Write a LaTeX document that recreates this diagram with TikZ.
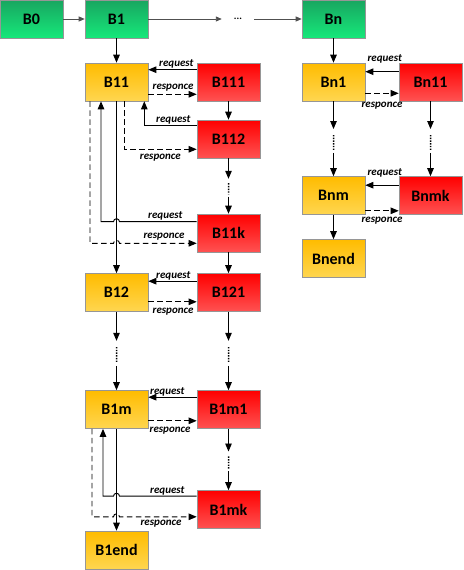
\documentclass[tikz,border=0pt]{standalone}
\usepackage{fontspec}
\setmainfont{Carlito}
\usetikzlibrary{arrows.meta,calc}
\definecolor{gT}{RGB}{24,166,96}
\definecolor{gB}{RGB}{22,232,122}
\definecolor{yT}{RGB}{255,188,0}
\definecolor{yB}{RGB}{255,214,80}
\definecolor{rT}{RGB}{255,0,0}
\definecolor{rB}{RGB}{255,82,82}
\definecolor{bord}{RGB}{150,150,150}
\definecolor{garrc}{RGB}{80,80,80}
\newcommand\vchain[2]{%
  \draw[arr] (#1.south) -- ($(#1.south)!0.37!(#2.north)$);
  \draw[dotline] ($(#1.south)!0.45!(#2.north)$) -- ($(#1.south)!0.65!(#2.north)$);
  \draw[arr] ($(#1.south)!0.69!(#2.north)$) -- (#2.north);}
\begin{document}
\begin{tikzpicture}[x=1pt,y=1pt,
  box/.style={draw=bord, line width=0.6pt, minimum width=63pt, minimum height=38pt, inner sep=0pt,
    font=\fontsize{16}{16}\selectfont\bfseries},
  gbox/.style={box, top color=gT, bottom color=gB},
  ybox/.style={box, top color=yT, bottom color=yB},
  rbox/.style={box, top color=rT, bottom color=rB},
  arr/.style={line width=0.95pt, -{Triangle[length=8pt,width=6.5pt]}},
  garr/.style={line width=0.9pt, draw=garrc, -{Triangle[length=6pt,width=5pt]}},
  resp/.style={arr, dash pattern=on 5.5pt off 3.5pt},
  lab/.style={font=\fontsize{11}{11}\selectfont\bfseries\itshape, inner sep=1pt},
  dotline/.style={line width=1.5pt, dash pattern=on 1.4pt off 1.3pt}
]
\useasboundingbox (0,0) rectangle (463,-570);

% nodes
\node[gbox] (B0) at (31.5,-19) {B0};
\node[gbox] (B1) at (116.5,-19) {B1};
\node[font=\fontsize{10}{10}\selectfont\bfseries, minimum width=32pt, inner sep=0pt] (dd) at (238,-19) {...};
\node[gbox] (Bn) at (333.5,-19) {Bn};

\node[ybox] (B11) at (116.5,-82) {B11};
\node[rbox] (B111) at (228.5,-82) {B111};
\node[rbox] (B112) at (228.5,-139) {B112};
\node[rbox] (B11k) at (228.5,-233) {B11k};
\node[ybox] (B12) at (116.5,-292.5) {B12};
\node[rbox] (B121) at (228.5,-292.5) {B121};
\node[ybox] (B1m) at (116.5,-409.5) {B1m};
\node[rbox] (B1m1) at (228.5,-409.5) {B1m1};
\node[rbox] (B1mk) at (228.5,-509.5) {B1mk};
\node[ybox] (B1end) at (116.5,-550) {B1end};

\node[ybox] (Bn1) at (333.5,-82) {Bn1};
\node[rbox] (Bn11) at (430.5,-82) {Bn11};
\node[ybox] (Bnm) at (333.5,-195.5) {Bnm};
\node[rbox] (Bnmk) at (430.5,-195.5) {Bnmk};
\node[ybox] (Bnend) at (333.5,-258.5) {Bnend};

% top row
\draw[garr] (B0) -- (B1);
\draw[garr] (B1) -- (dd);
\draw[garr] (dd) -- (Bn);
\draw[arr] (B1) -- (B11);
\draw[arr] (Bn) -- (Bn1);

% vertical chains
\draw[arr] (B111) -- (B112);
\vchain{B112}{B11k}
\draw[arr] (B11k) -- (B121);
\draw[arr] (B11) -- (B12);
\vchain{B12}{B1m}
\vchain{B121}{B1m1}
\vchain{B1m1}{B1mk}
\draw[arr] (B1m) -- (B1end);
\vchain{Bn1}{Bnm}
\vchain{Bn11}{Bnmk}
\draw[arr] (Bnm) -- (Bnend);

% B11 - B111
\coordinate (q1) at ([yshift=-7pt]B111.north west);
\draw[arr] (q1) -- (q1 -| B11.east);
\node[lab, anchor=south east] (lq1) at ($(q1)+(-2,0)$) {request};
\coordinate (p1) at ([yshift=7pt]B11.south east);
\draw[resp] (p1) -- (p1 -| B111.west);
\node[lab, anchor=south east] (lp1) at ($(p1 -| B111.west)+(-2,2)$) {responce};

% B11 - B112
\coordinate (q2) at ([yshift=-6pt]B112.north west);
\draw[arr] (q2) -| ([xshift=-4pt]B11.south east);
\node[lab, anchor=south east] (lq2) at ($(q2)+(-5,0)$) {request};
\coordinate (s2) at ([xshift=7.5pt]B11.south);
\coordinate (p2) at ([yshift=9pt]B112.south west);
\draw[resp] (s2) |- (p2);
\node[lab, anchor=north] (lp2) at ($(s2 |- p2)!0.5!(p2)+(0,-4)$) {responce};

% B11 - B11k
\coordinate (q3) at ([yshift=-8pt]B11k.north west);
\draw[arr] (q3) -- ($(q3 -| B11.south)+(3,0)$) arc[start angle=0,end angle=180,radius=3] -| ([xshift=-15.5pt]B11.south);
\node[lab, anchor=south east] (lq3) at ($(q3)+(-13,0)$) {request};
\coordinate (p3) at ([yshift=9pt]B11k.south west);
\draw[resp] ([xshift=-26.5pt]B11.south) |- ($(p3 -| B11.south)+(-3,0)$) arc[start angle=180,end angle=0,radius=3] -- (p3);
\node[lab, anchor=south east] (lp3) at ($(p3)+(-11,1.5)$) {responce};

% B12 - B121
\coordinate (q4) at ([yshift=-8pt]B121.north west);
\draw[arr] (q4) -- (q4 -| B12.east);
\node[lab, anchor=south east] (lq4) at ($(q4)+(-5,0)$) {request};
\coordinate (p4) at ([yshift=10pt]B12.south east);
\draw[resp] (p4) -- (p4 -| B121.west);
\node[lab, anchor=north east] (lp4) at ($(p4 -| B121.west)+(-2,-5)$) {responce};

% B1m - B1m1
\coordinate (q5) at ([yshift=-7pt]B1m1.north west);
\draw[arr] (q5) -- (q5 -| B1m.east);
\node[lab, anchor=south east] (lq5) at ($(q5)+(-11,0)$) {request};
\coordinate (p5) at ([yshift=8pt]B1m.south east);
\draw[resp] (p5) -- (p5 -| B1m1.west);
\node[lab, anchor=north east] (lp5) at ($(p5 -| B1m1.west)+(-5,-5)$) {responce};

% B1m - B1mk
\coordinate (q6) at ([yshift=-6pt]B1mk.north west);
\draw[arr] (q6) -- ($(q6 -| B1m.south)+(3,0)$) arc[start angle=0,end angle=180,radius=3] -| ([xshift=-13.5pt]B1m.south);
\node[lab, anchor=south east] (lq6) at ($(q6)+(-11,0)$) {request};
\coordinate (p6) at ([yshift=12pt]B1mk.south west);
\draw[resp] ([xshift=-24.5pt]B1m.south) |- ($(p6 -| B1m.south)+(-3,0)$) arc[start angle=180,end angle=0,radius=3] -- (p6);
\node[lab, anchor=north east] (lp6) at ($(p6)+(-14,-2.5)$) {responce};

% Bn1 - Bn11
\coordinate (q7) at ([yshift=-9pt]Bn11.north west);
\draw[arr] (q7) -- (q7 -| Bn1.east);
\node[lab, anchor=south] (lq7) at ($(q7)!0.42!(q7 -| Bn1.east)+(0,7)$) {request};
\coordinate (p7) at ([yshift=8pt]Bn1.south east);
\draw[resp] (p7) -- (p7 -| Bn11.west);
\node[lab, anchor=north] (lp7) at ($(p7)!0.5!(p7 -| Bn11.west)+(0,-8)$) {responce};

% Bnm - Bnmk
\coordinate (q8) at ([yshift=-9pt]Bnmk.north west);
\draw[arr] (q8) -- (q8 -| Bnm.east);
\node[lab, anchor=south] (lq8) at ($(q8)!0.42!(q8 -| Bnm.east)+(0,7)$) {request};
\coordinate (p8) at ([yshift=4pt]Bnm.south east);
\draw[resp] (p8) -- (p8 -| Bnmk.west);
\node[lab, anchor=north] (lp8) at ($(p8)!0.5!(p8 -| Bnmk.west)+(0,-5)$) {responce};
\end{tikzpicture}
\end{document}
